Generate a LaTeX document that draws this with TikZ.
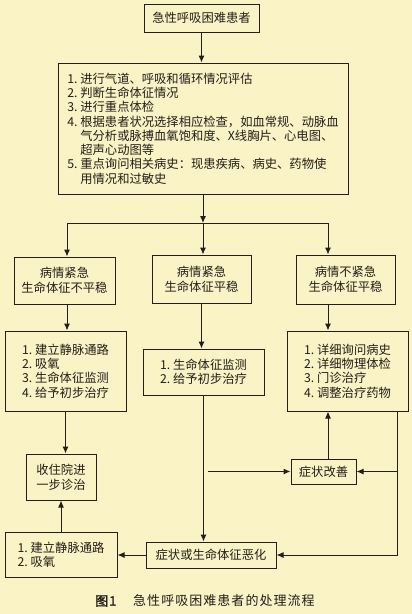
\documentclass[tikz,border=0pt]{standalone}
\usepackage{fontspec}
\setmainfont{Noto Sans CJK SC}[AutoFakeBold=2]
\usetikzlibrary{arrows.meta,calc}
\definecolor{bg}{RGB}{250,243,198}
\definecolor{ink}{RGB}{35,30,25}
\newcommand\myfs{\fontsize{12.3}{14.3}\selectfont}
\newcommand\capfs{\fontsize{13}{15}\selectfont\addfontfeatures{LetterSpace=8}}
\begin{document}
\begin{tikzpicture}[x=1pt,y=1pt,
  box/.style={draw=ink, line width=1pt, inner sep=0pt, align=center, font=\myfs, text=ink},
  lst/.style={box, align=left},
  arr/.style={draw=ink, line width=1pt, -{Latex[length=7pt,width=6pt]}},
  ln/.style={draw=ink, line width=1pt}]
\fill[bg] (0,0) rectangle (412,-614);
\useasboundingbox (0,0) rectangle (412,-614);

% nodes
\node[box, minimum width=115pt, minimum height=28pt] (top) at (201.5,-18) {急性呼吸困难患者};
\node[lst, minimum width=290pt, minimum height=131pt] (big) at (203,-128.5) {%
1.\ 进行气道、呼吸和循环情况评估\\
2.\ 判断生命体征情况\\
3.\ 进行重点体检\\
4.\ 根据患者状况选择相应检查，如血常规、动脉血\\
\phantom{4.\ }气分析或脉搏血氧饱和度、X线胸片、心电图、\\
\phantom{4.\ }超声心动图等\\
5.\ 重点询问相关病史：现患疾病、病史、药物使\\
\phantom{5.\ }用情况和过敏史};

\node[box, minimum width=101pt, minimum height=47pt] (s1) at (64.5,-280.5) {病情紧急\\[0.7pt]生命体征不平稳};
\node[box, minimum width=99pt, minimum height=48pt] (s2) at (201.5,-279) {病情紧急\\[0.7pt]生命体征平稳};
\node[box, minimum width=99pt, minimum height=49pt] (s3) at (345.5,-279.5) {病情不紧急\\[0.7pt]生命体征平稳};

\node[lst, minimum width=121pt, minimum height=80pt] (t1) at (65.5,-371) {%
1.\ 建立静脉通路\\2.\ 吸氧\\3.\ 生命体征监测\\4.\ 给予初步治疗};
\node[lst, minimum width=121pt, minimum height=46pt] (t2) at (203.5,-372) {%
1.\ 生命体征监测\\2.\ 给予初步治疗};
\node[lst, minimum width=121pt, minimum height=80pt] (t3) at (347.5,-371) {%
1.\ 详细询问病史\\2.\ 详细物理体检\\3.\ 门诊治疗\\4.\ 调整治疗药物};

\node[box, minimum width=70pt, minimum height=46pt] (adm) at (61,-477) {收住院进\\[0.7pt]一步诊治};
\node[box, minimum width=65pt, minimum height=25pt] (imp) at (323.5,-471.5) {症状改善};
\node[box, minimum width=130pt, minimum height=26pt] (wor) at (211,-555) {症状或生命体征恶化};
\node[lst, minimum width=112pt, minimum height=45pt] (ll) at (61,-554.5) {%
1.\ 建立静脉通路\\2.\ 吸氧};

\node[font=\capfs\bfseries, text=ink, anchor=west, inner sep=0pt] (cap1) at (95,-601) {图1};
\node[font=\capfs, text=ink, anchor=west, inner sep=0pt] (cap2) at (133,-601) {急性呼吸困难患者的处理流程};

% connectors
\coordinate (j) at (203,-223);
\coordinate (jl) at (67,-223);
\coordinate (jr) at (328,-223);
\draw[arr] (top.south) -- (top.south |- big.north);
\draw[arr] (big.south) -- (j);
\draw[ln] (jl) -- (jr);
\draw[arr] (jl) -- (jl |- s1.north);
\draw[arr] (j) -- (j |- s2.north);
\draw[arr] (jr) -- (jr |- s3.north);
\draw[arr] (jl |- s1.south) -- (jl |- t1.north);
\draw[arr] (s2.south) -- (s2.south |- t2.north);
\draw[arr] (jr |- s3.south) -- (jr |- t3.north);
\draw[arr] (t1.south) -- (t1.south |- adm.north);
\draw[arr] (ll.north) -- (ll.north |- adm.south);
\draw[arr] (t2.south) -- (t2.south |- wor.north);
\coordinate (hs) at ($(t2.south |- imp.west)+(4,0)$);
\draw[arr] (hs) -- (imp.west);
\draw[arr] (jr |- imp.north) -- (jr |- t3.south);
\coordinate (rb) at ($(t3.south east)+(-11,0)$);
\draw[arr] (rb) |- (wor.east);
\draw[arr] (rb |- imp.east) -- (imp.east);
\draw[arr] (wor.west) -- (wor.west -| ll.east);
\end{tikzpicture}
\end{document}
